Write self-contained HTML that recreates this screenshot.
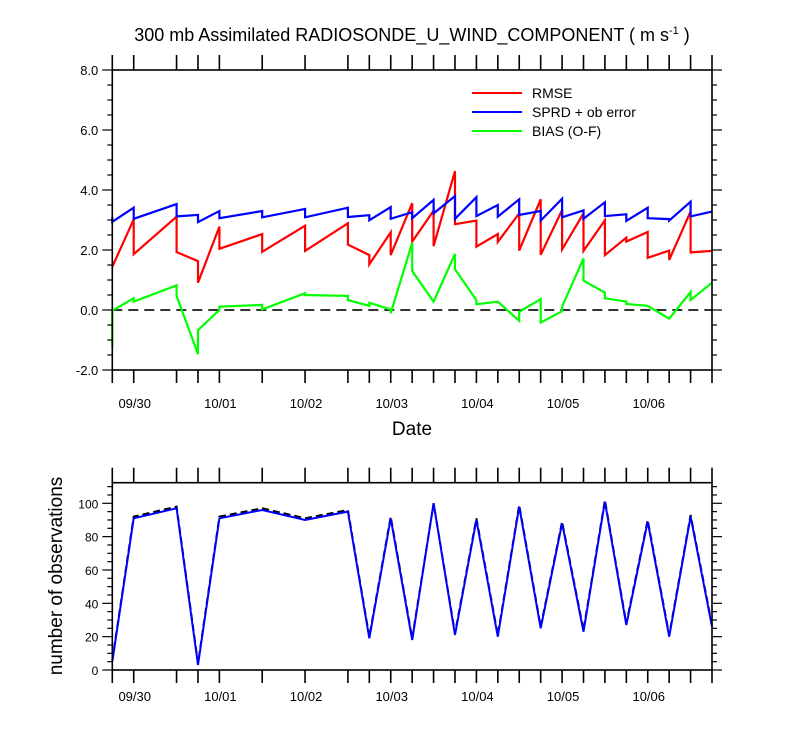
<!DOCTYPE html>
<html><head><meta charset="utf-8">
<style>
html,body{margin:0;padding:0;background:#fff;}
svg{display:block;font-family:"Liberation Sans",sans-serif;}
</style></head>
<body>
<svg id="chart" width="800" height="750" viewBox="0 0 800 750">
<text x="412" y="41" font-size="18" text-anchor="middle">300 mb Assimilated RADIOSONDE_U_WIND_COMPONENT ( m s<tspan font-size="11" dy="-7">-1</tspan><tspan dy="7"> )</tspan></text>
<g id="topPanel"></g>
<g id="botPanel"></g>
<text x="412" y="435" font-size="19" text-anchor="middle">Date</text>
<text transform="translate(62,576) rotate(-90)" font-size="19" text-anchor="middle">number of observations</text>
<g>
 <line x1="472" y1="93" x2="522" y2="93" stroke="#f00" stroke-width="2"/>
 <text x="532" y="98" font-size="14">RMSE</text>
 <line x1="472" y1="112" x2="522" y2="112" stroke="#00f" stroke-width="2"/>
 <text x="532" y="117" font-size="14">SPRD + ob error</text>
 <line x1="472" y1="131" x2="522" y2="131" stroke="#0f0" stroke-width="2"/>
 <text x="532" y="136" font-size="14">BIAS (O-F)</text>
</g>
</svg>
<script>
// hours since 09/30 00Z
const times=[-6,0,12,18,24,36,48,60,66,72,78,84,90,96,102,108,114,120,126,132,138,144,150,156,162];
const dateLabels=["09/30","10/01","10/02","10/03","10/04","10/05","10/06"];
const dateHours=[0,24,48,72,96,120,144];
const rmseEnd=[1.44,3.02,3.11,1.63,2.78,2.53,2.81,2.89,1.83,2.59,3.56,3.31,4.63,2.98,2.53,3.22,3.69,3.33,3.22,2.99,2.41,2.60,1.98,3.28,1.97];
const rmseStart=[1.44,1.86,1.93,0.91,2.04,1.94,1.97,2.18,1.52,1.83,2.28,2.13,2.86,2.11,2.27,1.98,1.84,2.02,1.97,1.83,2.28,1.74,1.67,1.92,1.97];
const sprdEnd=[3.10,3.41,3.53,3.17,3.30,3.30,3.37,3.41,3.16,3.43,3.26,3.67,3.80,3.76,3.50,3.69,3.30,3.71,3.32,3.59,3.19,3.41,3.03,3.61,3.28];
const sprdStart=[2.94,3.04,3.12,2.93,3.06,3.09,3.09,3.10,2.99,3.04,3.06,3.22,3.04,3.13,3.11,3.17,2.98,3.09,3.04,3.13,2.97,3.06,2.98,3.12,3.28];
const biasEnd=[-1.25,0.39,0.82,-1.47,0.00,0.17,0.56,0.47,0.14,0.02,2.24,0.28,1.87,0.33,0.28,-0.36,0.36,-0.04,1.72,0.58,0.28,0.14,-0.29,0.60,0.91];
const biasStart=[-0.02,0.28,0.47,-0.67,0.11,0.02,0.50,0.33,0.24,-0.11,1.30,0.28,1.36,0.19,0.28,-0.06,-0.42,0.11,0.98,0.39,0.20,0.14,-0.29,0.33,0.91];
const obsUsed=[5,91,97,3,91,96,90,95,19,91,18,100,21,90,20,98,25,88,23,101,27,89,20,92,26];
const obsPoss=[6,92,98,4,92,97,91,96,20,92,19,100,22,91,21,99,26,89,24,102,28,90,21,93,27];
const yTicksTop=[-2,0,2,4,6,8];
const yTicksBot=[0,20,40,60,80,100];

const NS="http://www.w3.org/2000/svg";
const X0=112.3,X1=712,T0=-6,T1=162;
const xs=h=>X0+(h-T0)/(T1-T0)*(X1-X0);
const yTop=v=>310-v*30;
const yBot=v=>670-v*1.667;
function mk(p,tag,at){const e=document.createElementNS(NS,tag);for(const k in at)e.setAttribute(k,at[k]);p.appendChild(e);return e;}

function frame(g,ty,by,ys,tickVals,minorStep,vmin,vmax,fmt,labelY,nm){
  for(const t of times){
    let l=mk(g,'line',{x1:xs(t),x2:xs(t),y1:ty-15,y2:ty,stroke:'#000','stroke-width':1.6});
    
    
    l=mk(g,'line',{x1:xs(t),x2:xs(t),y1:by,y2:by+13,stroke:'#000','stroke-width':1.6});
    
    
  }
  for(let v=vmin;v<=vmax+1e-9;v+=minorStep){
    const major=tickVals.some(t=>Math.abs(t-v)<1e-6);const len=major?10:5;
    for(const [x,d] of [[X0,-1],[X1,1]]){
      const l=mk(g,'line',{x1:x,x2:x+d*len,y1:ys(v),y2:ys(v),stroke:'#000','stroke-width':1.2});
      
      
    }
  }
  for(const v of tickVals){
    const t=mk(g,'text',{x:X0-14,y:ys(v)+5,'font-size':fmt===1?13:12,'text-anchor':'end'});
    t.textContent=fmt===1?v.toFixed(1):String(v);
    
    
  }
  dateHours.forEach((h,i)=>{
    const t=mk(g,'text',{x:xs(h)+1,y:labelY,'font-size':13,'text-anchor':'middle'});
    t.textContent=dateLabels[i];
    
    
  });
  const r=mk(g,'rect',{x:X0,y:ty,width:X1-X0,height:by-ty,fill:'none',stroke:'#000','stroke-width':1.6});
  
  
}
function saw(endA,startA,ys){
  let d='';
  times.forEach((t,i)=>{d+=(i?'L':'M')+xs(t).toFixed(1)+','+ys(endA[i]).toFixed(1)+'L'+xs(t).toFixed(1)+','+ys(startA[i]).toFixed(1);});
  return d;
}
const topG=document.getElementById('topPanel'),botG=document.getElementById('botPanel');
const zl=mk(topG,'line',{x1:X0,x2:X1,y1:yTop(0),y2:yTop(0),stroke:'#333','stroke-width':2,'stroke-dasharray':'10,6'});


[[rmseEnd,rmseStart,'#f00','rmse-line'],[sprdEnd,sprdStart,'#00f','sprd-line'],[biasEnd,biasStart,'#0f0','bias-line']].forEach(([e,s,c,n])=>{
  const p=mk(topG,'path',{d:saw(e,s,yTop),fill:'none',stroke:c,'stroke-width':2.2});
  
  
});
frame(topG,70,370,yTop,yTicksTop,0.5,-2,8,1,408,'top');
const lineOf=a=>times.map((t,i)=>(i?'L':'M')+xs(t).toFixed(1)+','+yBot(a[i]).toFixed(1)).join('');
const pp=mk(botG,'path',{d:lineOf(obsPoss),fill:'none',stroke:'#000','stroke-width':2,'stroke-dasharray':'7,4'});


const pu=mk(botG,'path',{d:lineOf(obsUsed),fill:'none',stroke:'#00f','stroke-width':2});


frame(botG,482.7,670,yBot,yTicksBot,5,0,110,0,701,'bottom');
</script>
</body></html>
